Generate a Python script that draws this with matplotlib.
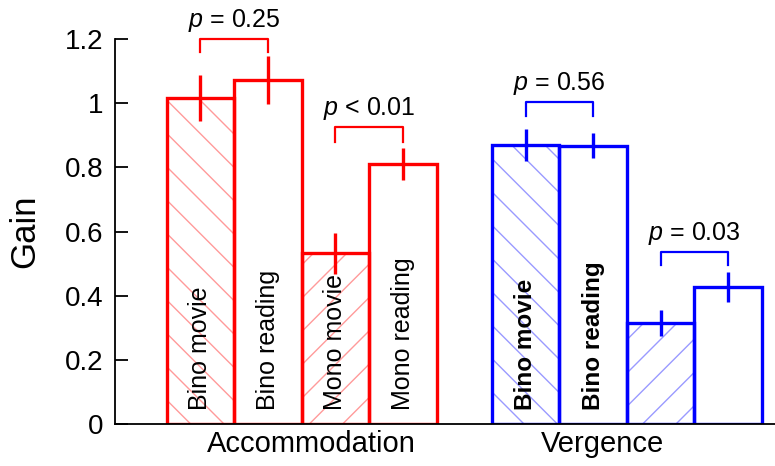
import numpy as np
import matplotlib.pyplot as plt

plt.rcParams['font.family'] = ['Liberation Sans', 'DejaVu Sans']
plt.rcParams['mathtext.fontset'] = 'custom'
plt.rcParams['mathtext.rm'] = 'Liberation Sans'
plt.rcParams['mathtext.it'] = 'Liberation Sans:italic'
plt.rcParams['hatch.linewidth'] = 1.0

# gain per condition (mean, error half-length)
conditions = ['Bino movie', 'Bino reading', 'Mono movie', 'Mono reading']
acc_gain = [1.016, 1.072, 0.533, 0.810]
acc_err = [0.072, 0.075, 0.064, 0.050]
verg_gain = [0.870, 0.868, 0.315, 0.427]
verg_err = [0.050, 0.040, 0.040, 0.048]
groups = ['Accommodation', 'Vergence']

# pairwise comparisons: (group, bar a, bar b, bracket y, leg y, label)
comparisons = [
    (0, 0, 1, 1.200, 1.160, '$p$ = 0.25'),
    (0, 2, 3, 0.926, 0.879, '$p$ < 0.01'),
    (1, 0, 1, 1.004, 0.960, '$p$ = 0.56'),
    (1, 2, 3, 0.536, 0.496, '$p$ = 0.03'),
]

fig = plt.figure(figsize=(7.75, 4.66), dpi=100)
ax = fig.add_axes([0.148, 0.090, 0.852, 0.826])

starts = [1.27, 6.085]
colors = ['#ff0000', '#0000ff']
light = ['#ff9a9a', '#9a9aff']
hatches = ['\\', None, '/', None]

for g, (gain, err) in enumerate([(acc_gain, acc_err), (verg_gain, verg_err)]):
    xs = starts[g] + np.arange(4)
    for i in range(4):
        if hatches[i]:
            ax.bar(xs[i], gain[i], width=1.0, color='none', edgecolor=light[g],
                   hatch=hatches[i], linewidth=0, zorder=1)
        ax.bar(xs[i], gain[i], width=1.0, fill=False, edgecolor=colors[g],
               linewidth=2.4, zorder=2)
        ax.plot([xs[i], xs[i]], [gain[i] - err[i], gain[i] + err[i]],
                color=colors[g], lw=2.4, solid_capstyle='butt', zorder=3)
        if g == 0:
            ax.text(xs[i], 0.045, conditions[i], rotation=90, ha='center',
                    va='bottom', fontsize=18, zorder=4)
        elif i < 2:
            ax.text(xs[i], 0.045, conditions[i], rotation=90, ha='center',
                    va='bottom', fontsize=17.5, fontweight='bold', zorder=4)

for g, a, b, top, leg, label in comparisons:
    xa, xb = starts[g] + a, starts[g] + b
    ax.plot([xa, xa, xb, xb], [leg, top, top, leg], color=colors[g], lw=1.6,
            clip_on=False)
    ax.text((xa + xb) / 2, top + 0.058, label, ha='center', va='center',
            fontsize=18, clip_on=False)

ax.set_xlim(0, 9.78)
ax.set_ylim(0, 1.2)
ax.set_yticks([0, 0.2, 0.4, 0.6, 0.8, 1, 1.2])
ax.set_yticklabels(['0', '0.2', '0.4', '0.6', '0.8', '1', '1.2'])
ax.set_xticks([2.92, 7.23])
ax.set_xticklabels(groups, fontsize=21)
ax.tick_params(axis='x', length=0, pad=4)
ax.tick_params(axis='y', direction='in', length=9, width=1.3, labelsize=20, pad=8)
ax.set_ylabel('Gain', fontsize=25, labelpad=17)

for side in ['top', 'right']:
    ax.spines[side].set_visible(False)
ax.spines['left'].set_linewidth(1.3)
ax.spines['bottom'].set_linewidth(1.3)

fig.savefig('out.png', dpi=100)
